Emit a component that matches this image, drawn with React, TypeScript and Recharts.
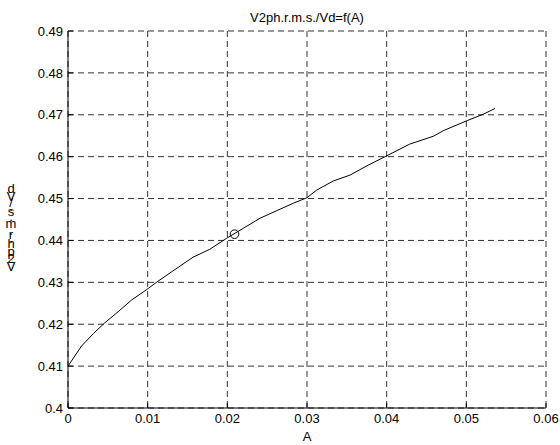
import React from "react";
import { ComposedChart, Line, Scatter, XAxis, YAxis, CartesianGrid } from "recharts";

// A on the x axis, V2ph.r.m.s./Vd on the y axis
const aValues = [
  0, 0.0017, 0.0032, 0.0046, 0.0063, 0.008, 0.0099, 0.0111, 0.013, 0.0157,
  0.0178, 0.0199, 0.022, 0.0241, 0.0262, 0.0283, 0.03, 0.0312, 0.0333, 0.0354,
  0.0375, 0.04, 0.0429, 0.0459, 0.0471, 0.0501, 0.0522, 0.0536,
];
const ratioValues = [
  0.41, 0.4148, 0.4178, 0.4203, 0.423, 0.4258, 0.4283, 0.43, 0.4325, 0.436,
  0.4379, 0.4405, 0.4429, 0.4453, 0.4471, 0.4489, 0.4502, 0.452, 0.4542, 0.4556,
  0.4578, 0.4602, 0.463, 0.4649, 0.4662, 0.4686, 0.4702, 0.4715,
];
// operating point marked with a circle
const markerA = [0.0209];
const markerRatio = [0.4415];

const xTicks = [0, 0.01, 0.02, 0.03, 0.04, 0.05, 0.06];
const yTicks = [0.4, 0.41, 0.42, 0.43, 0.44, 0.45, 0.46, 0.47, 0.48, 0.49];

const title = "V2ph.r.m.s./Vd=f(A)";
const xLabel = "A";
const yLabel = "V2ph.r.m.s./Vd";

const curve = aValues.map((a, i) => ({ a, v: ratioValues[i] }));
const marker = markerA.map((a, i) => ({ a, v: markerRatio[i] }));

const FONT = '"Liberation Sans", Arial, Helvetica, sans-serif';
const FS = 13;
const TICK_LEN = 5;

const BottomTick = (props: any) => {
  const { x, y, payload } = props;
  return (
    <g>
      <line x1={x} y1={y} x2={x} y2={y - TICK_LEN} stroke="#000" />
      <text x={x} y={y + 15} textAnchor="middle" fontSize={FS} fontFamily={FONT} fill="#000">
        {String(payload.value)}
      </text>
    </g>
  );
};

const TopTick = (props: any) => {
  const { x, y } = props;
  return <line x1={x} y1={y} x2={x} y2={y + TICK_LEN} stroke="#000" />;
};

const LeftTick = (props: any) => {
  const { x, y, payload } = props;
  return (
    <g>
      <line x1={x} y1={y} x2={x + TICK_LEN} y2={y} stroke="#000" />
      <text x={x - 5} y={y} dy="0.36em" textAnchor="end" fontSize={FS} fontFamily={FONT} fill="#000">
        {String(payload.value)}
      </text>
    </g>
  );
};

const RightTick = (props: any) => {
  const { x, y } = props;
  return <line x1={x} y1={y} x2={x - TICK_LEN} y2={y} stroke="#000" />;
};

const XLabel = (props: any) => {
  const { viewBox } = props;
  return (
    <text x={viewBox.x + viewBox.width / 2} y={viewBox.y + 33} textAnchor="middle" fontSize={FS} fontFamily={FONT} fill="#000">
      {xLabel}
    </text>
  );
};

// upright glyphs stacked bottom-to-top along the axis
const StackedYLabel = (props: any) => {
  const { viewBox } = props;
  const ctx = document.createElement("canvas").getContext("2d");
  if (ctx) ctx.font = `${FS}px ${FONT}`;
  let pos = 0;
  const chars = yLabel.split("").map((ch) => {
    const w = ctx ? ctx.measureText(ch).width : FS * 0.55;
    const c = pos + w / 2;
    pos += w;
    return { ch, c };
  });
  const bottom = viewBox.y + viewBox.height / 2 + 51;
  return (
    <g>
      {chars.map((c, i) => (
        <text key={i} x={11} y={bottom - c.c} dy="0.36em" textAnchor="middle" fontSize={FS} fontFamily={FONT} fill="#000">
          {c.ch}
        </text>
      ))}
    </g>
  );
};

export default function App() {
  return (
    <div style={{ position: "absolute", left: 0, top: 0, width: 560, height: 445, background: "#fff" }}>
      <div
        style={{
          position: "absolute",
          left: 68,
          width: 478,
          top: 10,
          textAlign: "center",
          fontFamily: FONT,
          fontSize: FS,
          lineHeight: "15px",
          color: "#000",
        }}
      >
        {title}
      </div>
      <ComposedChart width={560} height={445} margin={{ top: 31, right: 14, left: 0, bottom: 0 }}>
        <CartesianGrid stroke="#333" strokeDasharray="6 4" />
        <XAxis
          dataKey="a"
          type="number"
          domain={[0, 0.06]}
          ticks={xTicks}
          interval={0}
          allowDataOverflow
          height={37}
          tickSize={0}
          tickMargin={0}
          tick={<BottomTick />}
          tickLine={false}
          axisLine={{ stroke: "#000" }}
          label={<XLabel />}
        />
        <XAxis
          xAxisId="top"
          orientation="top"
          type="number"
          domain={[0, 0.06]}
          ticks={xTicks}
          interval={0}
          allowDataOverflow
          height={0}
          tickSize={0}
          tickMargin={0}
          tick={<TopTick />}
          tickLine={false}
          axisLine={{ stroke: "#000" }}
        />
        <YAxis
          type="number"
          domain={[0.4, 0.49]}
          ticks={yTicks}
          interval={0}
          allowDataOverflow
          width={68}
          tickSize={0}
          tickMargin={0}
          tick={<LeftTick />}
          tickLine={false}
          axisLine={{ stroke: "#000" }}
          label={<StackedYLabel />}
        />
        <YAxis
          yAxisId="right"
          orientation="right"
          type="number"
          domain={[0.4, 0.49]}
          ticks={yTicks}
          interval={0}
          allowDataOverflow
          width={0}
          tickSize={0}
          tickMargin={0}
          tick={<RightTick />}
          tickLine={false}
          axisLine={{ stroke: "#000" }}
        />
        <Line
          data={curve}
          dataKey="v"
          type="linear"
          stroke="#000"
          strokeWidth={1}
          dot={false}
          activeDot={false}
          isAnimationActive={false}
        />
        <Scatter
          data={marker}
          dataKey="v"
          isAnimationActive={false}
          shape={(p: any) => <circle cx={p.cx} cy={p.cy} r={4.3} fill="none" stroke="#000" />}
        />
      </ComposedChart>
    </div>
  );
}
